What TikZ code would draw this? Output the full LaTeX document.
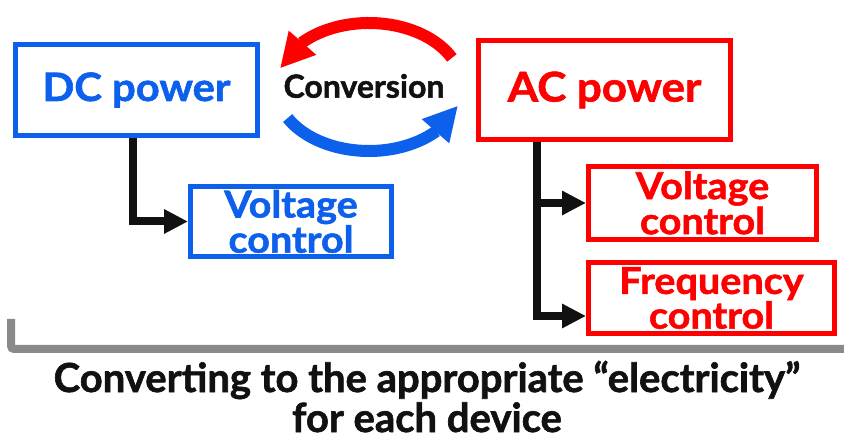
\documentclass[tikz,border=0pt]{standalone}
\usepackage{fontspec}
\setmainfont{Lato}[BoldFeatures={FakeBold=1.5}]
\newfontfamily\widefont{Lato}[FakeStretch=1.07, BoldFeatures={FakeBold=1.5}]
\usetikzlibrary{positioning,arrows.meta,bending}
\definecolor{dcblue}{RGB}{12,96,235}
\definecolor{acred}{RGB}{255,0,0}
\definecolor{ink}{RGB}{17,17,17}
\definecolor{bracketgray}{RGB}{138,138,138}
\begin{document}
\begin{tikzpicture}[
    x=1pt, y=-1pt,
    box/.style={rectangle, draw, line width=5pt, inner sep=0pt, align=center},
    dcbox/.style={box, draw=dcblue, text=dcblue},
    acbox/.style={box, draw=acred, text=acred},
    conn/.style={draw=ink, line width=8pt, -{Triangle[length=24pt, width=23pt]}},
    turn/.style={line width=12pt, -{Triangle[length=34pt, width=34pt]}},
    caption/.style={text=ink, inner sep=0pt, anchor=base, font=\bfseries\fontsize{40}{40}\selectfont}
]
    \useasboundingbox (0,0) rectangle (844,438);

    \node[dcbox, minimum width=242pt, minimum height=91pt, font=\widefont\bfseries\fontsize{39}{39}\selectfont] (dcpower) at (136.5,90) {DC power};
    \node[acbox, minimum width=252pt, minimum height=99pt, font=\widefont\bfseries\fontsize{41}{41}\selectfont] (acpower) at (604.5,90) {AC power};

    \node[dcbox, minimum width=201pt, minimum height=70pt, font=\widefont\bfseries\fontsize{37}{28}\selectfont] (dcvolt) at (291,221.5) {Voltage\\control};
    \node[acbox, minimum width=228pt, minimum height=73pt, font=\widefont\bfseries\fontsize{37}{28}\selectfont] (acvolt) at (702.5,203) {Voltage\\control};
    \node[acbox, minimum width=246pt, minimum height=71pt, font=\widefont\bfseries\fontsize{37}{28}\selectfont] (acfreq) at (711.5,298) {Frequency\\control};

    \draw[conn] ([xshift=-4pt]dcpower.south) |- (dcvolt.west);
    \draw[conn] ([xshift=-68pt]acpower.south) |- (acvolt.west);
    \draw[conn] ([xshift=-68pt]acpower.south) |- ([yshift=-18pt]acfreq.west);

    % conversion loop
    \coordinate (hub) at (369,87);
    \node[text=ink, font=\bfseries\fontsize{32}{32}\selectfont] (conv) at (364,86) {Conversion};
    \draw[turn, acred] (hub) ++(-27:93 and 64) arc[start angle=-27, end angle=-163, x radius=93, y radius=64];
    \draw[turn, dcblue] (hub) ++(151:93 and 64) arc[start angle=151, end angle=17, x radius=93, y radius=64];

    % bracket and caption
    \coordinate (brtop) at (11,319);
    \coordinate (brend) at (844,349);
    \draw[bracketgray, line width=8pt, rounded corners=3pt] (brtop) |- (brend);
    \node[caption] (capline1) at (427,392) {Converting to the appropriate “electricity”};
    \node[caption] (capline2) at (427,432) {for each device};
\end{tikzpicture}
\end{document}
